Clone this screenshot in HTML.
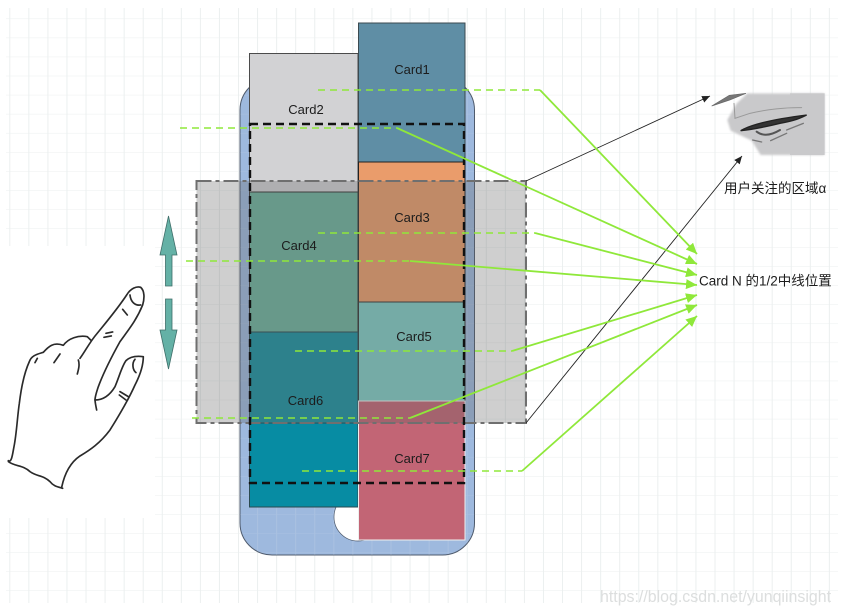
<!DOCTYPE html>
<html><head><meta charset="utf-8"><style>
html,body{margin:0;padding:0;background:#fff;width:841px;height:615px;overflow:hidden}
svg{display:block}
text{font-family:"Liberation Sans","Noto Sans CJK SC",sans-serif;font-size:13px;fill:#1c1c1c}
</style></head><body>
<svg width="841" height="615" viewBox="0 0 841 615" xmlns="http://www.w3.org/2000/svg">
<defs>
<pattern id="g" width="19.06" height="19.06" patternUnits="userSpaceOnUse" x="9.3" y="0">
<path d="M0.5 0V19.06M0 19.06H19.06" fill="none" stroke="#ebefef" stroke-width="1"/>
</pattern>
<marker id="ga" markerUnits="userSpaceOnUse" markerWidth="12" markerHeight="10" refX="11" refY="5" orient="auto"><path d="M0 0L11 5L0 10Z" fill="#8fe83a"/></marker>
<marker id="ka" markerUnits="userSpaceOnUse" markerWidth="9" markerHeight="8" refX="8" refY="4" orient="auto"><path d="M0 0.5L8 4L0 7.5Z" fill="#222"/></marker>
<filter id="b1"><feGaussianBlur stdDeviation="1.100"/></filter>
<filter id="b2"><feGaussianBlur stdDeviation="3"/></filter>
</defs>
<rect width="841" height="615" fill="#fff"/>
<rect x="6" y="8" width="832" height="595" fill="url(#g)"/>
<rect x="0" y="246" width="155" height="272" fill="#fff"/>

<!-- phone -->
<rect x="240" y="78" width="234.500" height="477" rx="32" ry="32" fill="#9eb9de" stroke="#4e5a6c" stroke-width="1"/>
<rect x="240" y="78" width="234.500" height="477" rx="32" ry="32" fill="url(#g)" opacity=".15"/>
<circle cx="358" cy="517" r="24" fill="#fff" stroke="#4e5a6c" stroke-width=".7"/>

<!-- cards -->
<rect x="249.500" y="53.500" width="108.500" height="138.500" fill="#d2d2d4" stroke="#4b4b4b" stroke-width="1"/>
<rect x="358.500" y="23" width="106.500" height="139" fill="#5f8ea5" stroke="#3b4a50" stroke-width="1"/>
<rect x="358.500" y="162" width="106.500" height="140" fill="#ea9c6b" stroke="#222" stroke-width="1"/>
<rect x="249.500" y="192" width="108.500" height="140" fill="#6cb29d" stroke="#333" stroke-width="1"/>
<rect x="358.500" y="302" width="106.500" height="99" fill="#7eccc5" stroke="#333" stroke-width="1"/>
<rect x="249.500" y="332" width="108.500" height="91" fill="#18909f" stroke="#2a4a50" stroke-width="1"/>
<rect x="249.500" y="423" width="108.500" height="84" fill="#078ca3" stroke="#2a4a50" stroke-width="1"/>
<rect x="358.500" y="401" width="106.500" height="139" fill="#c26575" stroke="#eee" stroke-width="1"/>

<!-- overlay alpha -->
<rect x="196.500" y="181" width="329.500" height="242" fill="rgb(95,95,97)" fill-opacity=".3" stroke="#6f6f6f" stroke-width="2" stroke-dasharray="15 4 4 4"/>

<!-- black dashed -->
<rect x="250" y="124" width="214" height="359" fill="none" stroke="#111" stroke-width="2.400" stroke-dasharray="8 5"/>

<!-- labels -->
<text x="412" y="74" text-anchor="middle">Card1</text>
<text x="306" y="114" text-anchor="middle">Card2</text>
<text x="412" y="222" text-anchor="middle">Card3</text>
<text x="299" y="250" text-anchor="middle">Card4</text>
<text x="414" y="341" text-anchor="middle">Card5</text>
<text x="305.500" y="405" text-anchor="middle">Card6</text>
<text x="412" y="463" text-anchor="middle">Card7</text>

<!-- black arrows -->
<line x1="526" y1="181" x2="710" y2="96" stroke="#222" stroke-width=".9" marker-end="url(#ka)"/>
<line x1="526" y1="423" x2="742" y2="156" stroke="#222" stroke-width=".9" marker-end="url(#ka)"/>

<!-- green -->
<g fill="none" stroke="#8fe83a">
<g stroke-width="1.500" stroke-dasharray="7 5">
<path d="M318 90H540"/><path d="M180 128H397"/><path d="M318 233H535"/><path d="M186 261H410"/><path d="M295 351H512"/><path d="M192 418H410"/><path d="M302 471H522"/>
</g>
<g stroke-width="1.800">
<path d="M540 90L697 254" marker-end="url(#ga)"/>
<path d="M397 128L697 264" marker-end="url(#ga)"/>
<path d="M535 233L697 275" marker-end="url(#ga)"/>
<path d="M410 261L697 285" marker-end="url(#ga)"/>
<path d="M512 351L697 295" marker-end="url(#ga)"/>
<path d="M410 418L697 305" marker-end="url(#ga)"/>
<path d="M522 471L697 316" marker-end="url(#ga)"/>
</g>
</g>

<!-- teal arrows -->
<path d="M168.500 216L177 255H172V286H165.500V255H160Z" fill="#64b1a6" stroke="#3f6f6a" stroke-width=".8"/>
<path d="M168.500 369L177 330H172V299H165.500V330H160Z" fill="#64b1a6" stroke="#3f6f6a" stroke-width=".8"/>

<!-- hand -->
<g transform="translate(0,200) scale(.3333)" fill="none" stroke="#2a2a2a" stroke-width="5" stroke-linecap="round" stroke-linejoin="round" filter="url(#b1)">
<path d="M25 782C35 790 38 760 42 740C50 700 52 650 58 610C64 560 72 520 88 485C95 465 115 462 130 457C145 440 160 425 190 436C205 415 235 405 262 410L272 420"/>
<path d="M240 475C255 455 270 425 290 402C320 365 350 330 380 285C392 265 410 258 422 262C434 272 434 295 428 315C410 360 385 390 360 425C335 470 310 520 295 560C290 575 285 590 285 600C286 612 288 620 290 630"/>
<path d="M285 600C310 600 330 585 345 560C358 530 365 500 378 482C392 468 415 468 430 470C430 500 418 530 405 555C385 600 355 650 330 690C300 730 270 750 240 768C215 785 195 815 185 862"/>
<path d="M25 785C45 800 70 795 90 815C110 830 130 825 150 845C160 858 170 860 188 865"/>
<path d="M390 285C392 305 405 318 422 315"/>
<path d="M405 478C395 490 398 510 408 518" />
<path d="M368 328L382 345M318 400L338 396M312 412L334 408M235 480C240 495 235 510 232 522M360 575L385 590M358 585L378 600M105 488L112 475M162 488L180 462"/>
</g>

<!-- eye -->
<g transform="translate(640,70) scale(.3333)">
<path d="M322 70H553V255H362L335 212L272 182L262 150L290 100Z" fill="#c9c9cb" filter="url(#b2)"/>
<rect x="450" y="70" width="104" height="185" fill="#c9c9cb"/>
<g fill="none" stroke-linecap="round">
<path d="M215 108L268 76L318 70L270 90Z" fill="#777" stroke="#666" stroke-width="2"/>
<path d="M282 100L285 145L330 130C380 118 440 112 485 113" stroke="#999" stroke-width="3"/>
<path d="M302 182C340 160 420 145 500 135C470 150 450 155 420 160C380 170 340 178 302 182Z" fill="#333" stroke="#222" stroke-width="4"/>
<path d="M350 185C370 200 395 195 420 180" stroke="#555" stroke-width="6"/>
<path d="M338 210L365 216M392 212L440 190M440 180L490 160" stroke="#777" stroke-width="4"/>
</g>
</g>

<text x="724" y="193" style="font-size:13.500px">用户关注的区域α</text>
<text x="699" y="285.500" style="font-size:13.500px">Card N 的1/2中线位置</text>

<text x="600" y="602" textLength="231" lengthAdjust="spacingAndGlyphs" style="font-size:17px;fill:#dcdede">https://blog.csdn.net/yunqiinsight</text>
</svg>
</body></html>
